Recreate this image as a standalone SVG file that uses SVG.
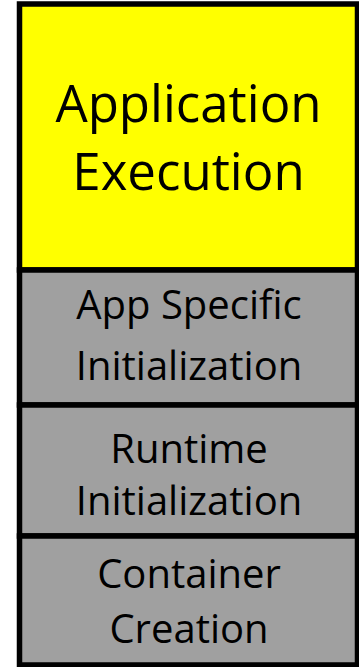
<svg xmlns="http://www.w3.org/2000/svg" width="359" height="667" viewBox="0 0 359 667">
<style>
.box{stroke:#000;stroke-width:5.5}
.yel{fill:#ffff00}
.gry{fill:#a0a0a0}
.t{font-family:"Open Sans","Noto Sans","Liberation Sans",sans-serif;fill:#000;text-anchor:middle}
.big{font-size:51px}
.sm{font-size:40px}
</style>
<rect width="359" height="667" fill="#fff"/>
<g id="app-execution">
<rect class="box yel" x="19.5" y="4" width="338" height="266"/>
<text class="t big" x="188.5" y="122">Application</text>
<text class="t big" x="188.5" y="190">Execution</text>
</g>
<g id="app-specific-init">
<rect class="box gry" x="19.5" y="270" width="338" height="135"/>
<text class="t sm" x="189" y="319">App Specific</text>
<text class="t sm" x="189" y="380">Initialization</text>
</g>
<g id="runtime-init">
<rect class="box gry" x="19.5" y="405" width="338" height="131"/>
<text class="t sm" x="189" y="463">Runtime</text>
<text class="t sm" x="189" y="515">Initialization</text>
</g>
<g id="container-creation">
<rect class="box gry" x="19.5" y="536" width="338" height="129"/>
<text class="t sm" x="189" y="588">Container</text>
<text class="t sm" x="189" y="643">Creation</text>
</g>
<g id="connectors"></g>
</svg>
